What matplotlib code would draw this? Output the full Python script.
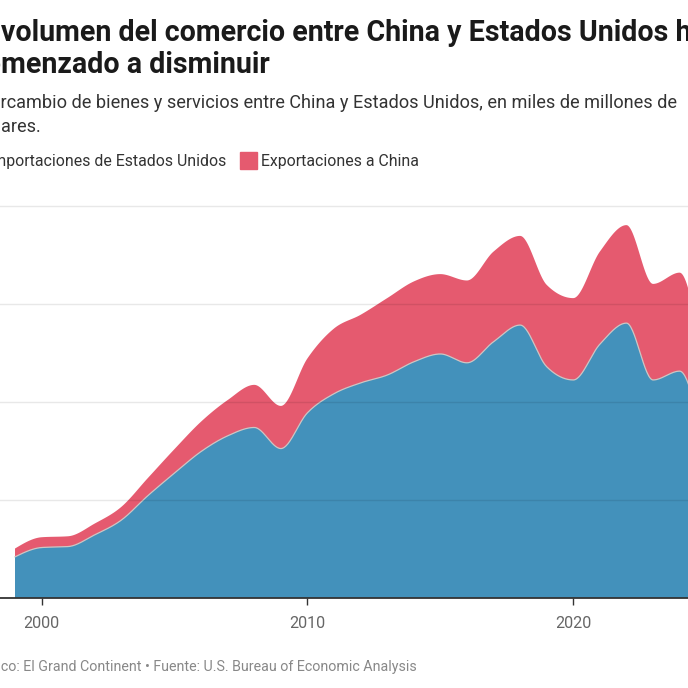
import numpy as np
import matplotlib
matplotlib.use("Agg")
import matplotlib.pyplot as plt
from matplotlib.patches import Rectangle
from matplotlib.font_manager import FontProperties

# ---------------- data (miles de millones de dólares) ----------------
years = [1999, 2000, 2001, 2002, 2003, 2004, 2005, 2006, 2007, 2008, 2009, 2010,
         2011, 2012, 2013, 2014, 2015, 2016, 2017, 2018, 2019, 2020, 2021, 2022,
         2023, 2024, 2025]
importaciones = [84, 103, 105, 129, 159, 209, 255, 299, 331, 348, 305, 378,
                 417, 439, 455, 482, 498, 480, 523, 557, 472, 445, 518, 561,
                 445, 463, 280]
exportaciones = [17, 21, 21, 23, 27, 36, 49, 61, 73, 87, 87, 111,
                 133, 139, 157, 164, 163, 168, 184, 182, 167, 167, 189, 200,
                 196, 201, 150]
x_ticks = [2000, 2010, 2020]
y_grid = [200, 400, 600, 800]

title_lines = ["El volumen del comercio entre China y Estados Unidos ha",
               "comenzado a disminuir"]
subtitle_lines = ["Intercambio de bienes y servicios entre China y Estados Unidos, en miles de millones de",
                  "dólares."]
legend_labels = ["Importaciones de Estados Unidos", "Exportaciones a China"]
footer = "Gráfico: El Grand Continent • Fuente: U.S. Bureau of Economic Analysis"

BLUE = "#4391bb"
RED = "#e55a6f"


# ------------- monotone-x cubic curve (as in d3.curveMonotoneX) -------------
def monotone_curve(x, y, n=30):
    x = np.asarray(x, float)
    y = np.asarray(y, float)
    m = len(x)
    h = np.diff(x)
    s = np.diff(y) / h
    t = np.zeros(m)
    for i in range(1, m - 1):
        s0, s1 = s[i - 1], s[i]
        p = (s0 * h[i] + s1 * h[i - 1]) / (h[i - 1] + h[i])
        t[i] = (np.sign(s0) + np.sign(s1)) * min(abs(s0), abs(s1), 0.5 * abs(p))
    t[0] = (3 * s[0] - t[1]) / 2
    t[-1] = (3 * s[-1] - t[-2]) / 2
    xs, ys = [], []
    for i in range(m - 1):
        u = np.linspace(0, 1, n, endpoint=False)
        h00 = 2 * u**3 - 3 * u**2 + 1
        h10 = u**3 - 2 * u**2 + u
        h01 = -2 * u**3 + 3 * u**2
        h11 = u**3 - u**2
        xs.append(x[i] + u * h[i])
        ys.append(h00 * y[i] + h10 * h[i] * t[i] + h01 * y[i + 1] + h11 * h[i] * t[i + 1])
    xs.append([x[-1]])
    ys.append([y[-1]])
    return np.concatenate(xs), np.concatenate(ys)


plt.rcParams['font.family'] = ['Roboto', 'DejaVu Sans']

W = H = 688
fig = plt.figure(figsize=(W / 100, H / 100), dpi=100)
fig.patch.set_facecolor("white")
renderer = fig.canvas.get_renderer()


def fx(px):
    return px / W


def fy(py):
    return 1 - py / H


def text_w(s, size, weight='normal'):
    prop = FontProperties(family=['Roboto', 'DejaVu Sans'], size=size, weight=weight)
    w1, _, _ = renderer.get_text_width_height_descent(s + "x", prop, ismath=False)
    w2, _, _ = renderer.get_text_width_height_descent("x", prop, ismath=False)
    return w1 - w2


def place(full, prefix, x_vis, y_base, size, weight='normal', color='#333333'):
    x0 = x_vis - text_w(prefix, size, weight)
    fig.text(fx(x0), fy(y_base), full, fontsize=size, fontweight=weight,
             color=color, va='baseline', ha='left')


# axes: 0 -> y=598px, 800 -> y=206px ; x spans full width
ax_top, ax_bot = 206, 598
ax = fig.add_axes([0, fy(ax_bot), 1, (ax_bot - ax_top) / H])
px_per_year = (573.3 - 41.6) / 20
x_left = 2000 - 41.6 / px_per_year
x_right = 2000 + (W - 41.6) / px_per_year
ax.set_xlim(x_left, x_right)
ax.set_ylim(0, 800)

total = [a + b for a, b in zip(importaciones, exportaciones)]
cx, cimp = monotone_curve(years, importaciones)
_, ctot = monotone_curve(years, total)

ax.fill_between(cx, 0, ctot, color=RED, lw=0, zorder=2)
ax.fill_between(cx, 0, cimp, color=BLUE, lw=0, zorder=3)
ax.plot(cx, cimp, color="#cdc6c4", lw=0.9, zorder=4)

for g in y_grid:
    ax.axhline(g, color=(0, 0, 0, 0.09), lw=1.0, zorder=5, clip_on=False)
ax.axhline(0, color="#333333", lw=1.3, zorder=6, clip_on=False)

for s in ax.spines.values():
    s.set_visible(False)
ax.set_yticks([])
ax.set_xticks(x_ticks)
ax.set_xticklabels([str(v) for v in x_ticks])
ax.tick_params(axis='x', direction='out', length=5, width=1.0, color="#333333",
               labelsize=11.6, labelcolor="#666666", pad=8)
ax.set_facecolor("none")

# ---------------- texts ----------------
TS = 20.6
SS = 13.1
place(title_lines[0], "El ", 1, 41, TS, 'bold', "#1a1a1a")
place(title_lines[1], "co", 1, 73, TS, 'bold', "#1a1a1a")
place(subtitle_lines[0], "Inte", 1, 108, SS, 'normal', "#333333")
place(subtitle_lines[1], "dól", 1, 132, SS, 'normal', "#333333")

# legend
LS = 11.4
fig.text(fx(226), fy(166), legend_labels[0], fontsize=LS, color="#333333",
         va='baseline', ha='right')
fig.patches.append(Rectangle((fx(240), fy(169)), 17 / W, 17 / H, color=RED,
                             transform=fig.transFigure, figure=fig))
fig.text(fx(261), fy(166), legend_labels[1], fontsize=LS, color="#333333",
         va='baseline', ha='left')

place(footer, "Gráfi", 1, 671, 10.3, 'normal', "#888888")

fig.savefig("out.png", dpi=100, facecolor="white")
